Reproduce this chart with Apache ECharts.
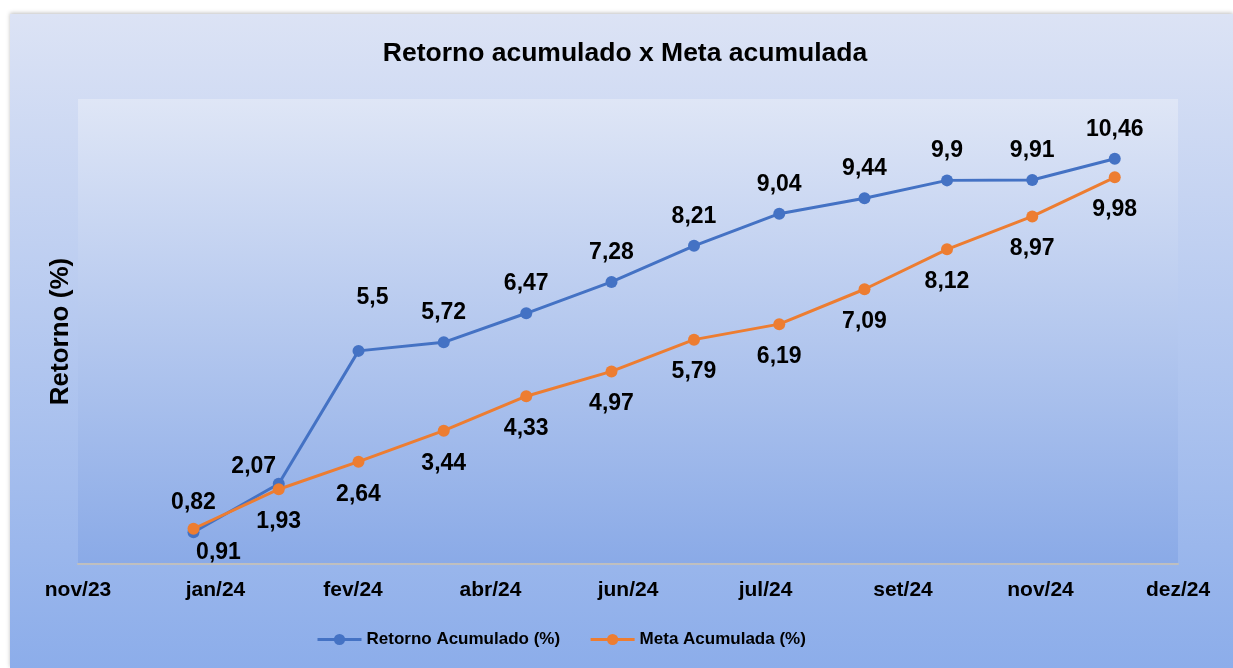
<!DOCTYPE html>
<html>
<head>
<meta charset="utf-8">
<script src="https://cdn.jsdelivr.net/npm/echarts@6/dist/echarts.min.js"></script>
<style>
  html, body { margin: 0; padding: 0; background: #ffffff; }
  #chart {
    position: absolute;
    left: 10px;
    top: 14px;
    width: 1223px;
    height: 654px;
    background: linear-gradient(to bottom, #dce3f5 0%, #8cadea 100%);
    box-shadow: 0 -1px 4px rgba(0, 0, 0, 0.25);
  }
</style>
</head>
<body>
<div id="chart"></div>
<script>
// datas de fechamento de cada mês
const dates = ['2023-12-31', '2024-01-31', '2024-02-29', '2024-03-31', '2024-04-30', '2024-05-31',
  '2024-06-30', '2024-07-31', '2024-08-31', '2024-09-30', '2024-10-31', '2024-11-30']
const retorno = [0.82, 2.07, 5.5, 5.72, 6.47, 7.28, 8.21, 9.04, 9.44, 9.9, 9.91, 10.46]
const meta = [0.91, 1.93, 2.64, 3.44, 4.33, 4.97, 5.79, 6.19, 7.09, 8.12, 8.97, 9.98]
// rótulos do eixo de datas (passo de 50 dias a partir de 19/11/2023)
const tickLabels = ['nov/23', 'jan/24', 'fev/24', 'abr/24', 'jun/24', 'jul/24', 'set/24', 'nov/24', 'dez/24']
const axisStart = Date.UTC(2023, 10, 19)
const stepDays = 50

const dayOf = (d) => (Date.parse(d) - axisStart) / 86400000
const font = 'Liberation Sans, Arial, sans-serif'

// rótulos movidos à mão no original
const nudgeRetorno = { 1: [-25, 12], 2: [14, -24] }
const nudgeMeta = { 0: [25, -9] }

function buildData(values, nudge) {
  return values.map((v, i) => {
    const item = { value: [dayOf(dates[i]), v] }
    if (nudge[i]) item.label = { offset: nudge[i] }
    return item
  })
}

const labelStyle = {
  show: true,
  fontFamily: font,
  fontSize: 23,
  fontWeight: 'bold',
  color: '#000',
  formatter: (p) => String(p.value[1]).replace('.', ','),
}

const chart = echarts.init(document.getElementById('chart'))
const option = {
  animation: false,
  title: {
    text: 'Retorno acumulado x Meta acumulada',
    left: 615,
    textAlign: 'center',
    top: 26,
    padding: 0,
    textStyle: { fontFamily: font, fontSize: 26.5, fontWeight: 'bold', color: '#000' },
  },
  legend: {
    left: 301,
    top: 612,
    itemWidth: 44,
    itemHeight: 14,
    itemGap: 29,
    lineStyle: { width: 3 },
    textStyle: { fontFamily: font, fontSize: 17, fontWeight: 'bold', color: '#000' },
    data: ['Retorno Acumulado (%)', 'Meta Acumulada (%)'],
  },
  grid: {
    left: 68,
    right: 55,
    top: 85,
    bottom: 104,
    show: true,
    borderWidth: 0,
    backgroundColor: new echarts.graphic.LinearGradient(0, 0, 0, 1, [
      { offset: 0, color: '#dfe6f6' },
      { offset: 1, color: '#8aaae7' },
    ]),
  },
  xAxis: {
    type: 'value',
    min: 0,
    max: stepDays * (tickLabels.length - 1),
    interval: stepDays,
    axisLine: { show: true, onZero: false, lineStyle: { color: '#bfbfbf', width: 2 } },
    axisTick: { show: false },
    splitLine: { show: false },
    axisLabel: {
      margin: 16,
      fontFamily: font,
      fontSize: 21,
      fontWeight: 'bold',
      color: '#000',
      showMinLabel: true,
      showMaxLabel: true,
      formatter: (v) => tickLabels[Math.round(v / stepDays)],
    },
  },
  yAxis: {
    type: 'value',
    min: 0,
    max: 12,
    name: 'Retorno (%)',
    nameLocation: 'middle',
    nameRotate: 90,
    nameGap: 4,
    nameTextStyle: { fontFamily: font, fontSize: 26, fontWeight: 'bold', color: '#000' },
    axisLine: { show: false },
    axisTick: { show: false },
    axisLabel: { show: false },
    splitLine: { show: false },
  },
  series: [
    {
      name: 'Retorno Acumulado (%)',
      type: 'line',
      data: buildData(retorno, nudgeRetorno),
      color: '#4472c4',
      symbol: 'circle',
      symbolSize: 12,
      lineStyle: { width: 3 },
      label: Object.assign({ position: 'top', distance: 12 }, labelStyle),
    },
    {
      name: 'Meta Acumulada (%)',
      type: 'line',
      data: buildData(meta, nudgeMeta),
      color: '#ed7d31',
      symbol: 'circle',
      symbolSize: 12,
      lineStyle: { width: 3 },
      label: Object.assign({ position: 'bottom', distance: 15 }, labelStyle),
    },
  ],
}
chart.setOption(option)
</script>
</body>
</html>
